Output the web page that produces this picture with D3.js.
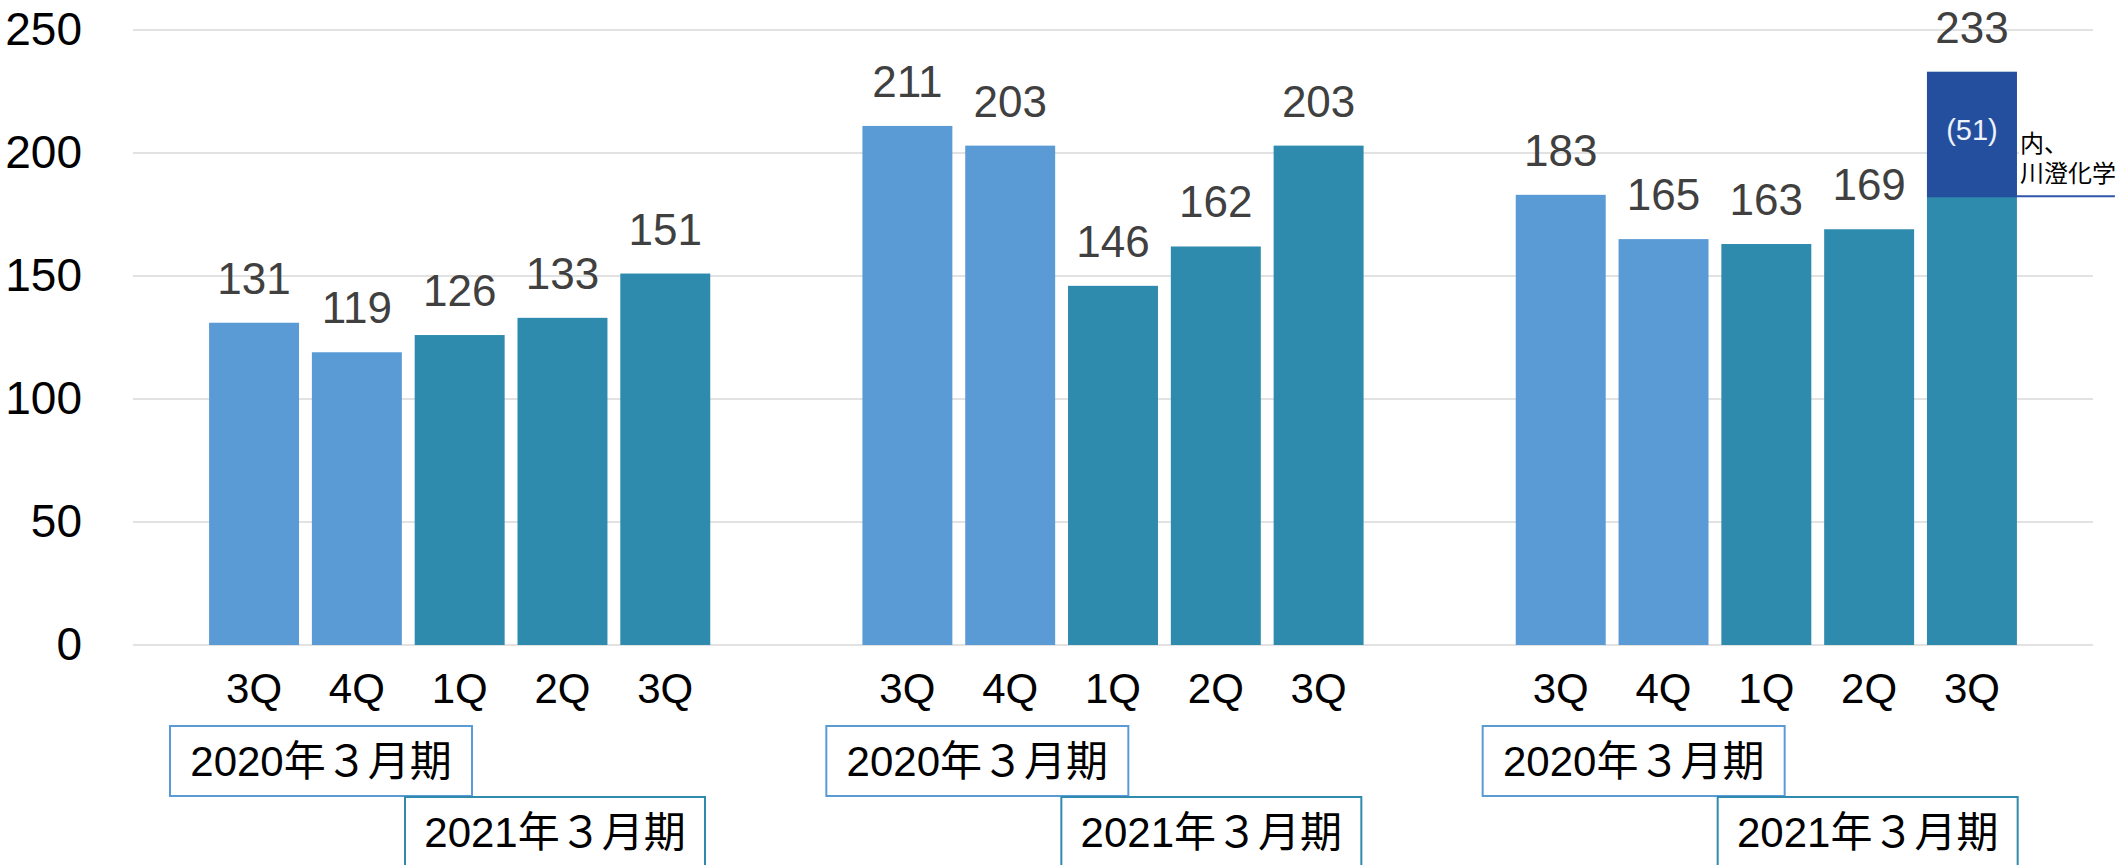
<!DOCTYPE html>
<html>
<head>
<meta charset="utf-8">
<script src="https://cdn.jsdelivr.net/npm/d3@7"></script>
<style>
    body { margin: 0; background: #fff; }
    svg { display: block; }
    text { font-family: "Liberation Sans", "Noto Sans CJK JP", sans-serif; }
</style>
</head>
<body>
<svg id="chart" width="2120" height="865"></svg>
<script>
// chart data
const panels = ["p1", "p2", "p3"];
const quarters = ["3Q", "4Q", "1Q", "2Q", "3Q"];
const quarterYear = [0, 0, 1, 1, 1];          // 0 -> FY2020, 1 -> FY2021
const fiscalYears = ["2020年３月期", "2021年３月期"];
const panelValues = [
    [131, 119, 126, 133, 151],
    [211, 203, 146, 162, 203],
    [183, 165, 163, 169, 233]
];
const yTicks = [0, 50, 100, 150, 200, 250];
const insidePart = { panel: 2, quarter: 4, value: 51 };
const insideLabel = ["内、", "川澄化学"];

const colors = ["#5B9BD5", "#2E8BAD"];
const insideColor = "#244F9F";

const svg = d3.select("#chart");
const margin = {top: 30, right: 27, bottom: 220, left: 133};
const width = 2120 - margin.left - margin.right;
const height = 865 - margin.top - margin.bottom;

const g = svg.append("g").attr("transform", `translate(${margin.left},${margin.top})`);

const y = d3.scaleLinear().domain([0, 250]).range([height, 0]);
const panelX = d3.scaleBand().domain(panels).range([0, width]).padding(0);
const qX = d3.scaleBand().domain(d3.range(quarters.length))
        .range([0, panelX.bandwidth()])
        .paddingInner(0.125)
        .paddingOuter(0.74);

// gridlines
g.append("g")
        .selectAll("line")
        .data(yTicks)
        .enter().append("line")
        .attr("x1", 0)
        .attr("x2", width)
        .attr("y1", d => y(d))
        .attr("y2", d => y(d))
        .attr("stroke", "#d9d9d9")
        .attr("stroke-width", 1.5);

// y axis
const yAxis = g.append("g")
        .call(d3.axisLeft(y).tickValues(yTicks).tickSize(0).tickPadding(51));
yAxis.select(".domain").remove();
yAxis.selectAll("text")
        .attr("font-size", 46)
        .attr("font-family", "Liberation Sans, sans-serif")
        .attr("fill", "#000");

panels.forEach((p, pi) => {
    const pg = g.append("g").attr("transform", `translate(${panelX(p)},0)`);
    const vals = panelValues[pi];

    pg.selectAll("rect.bar")
            .data(vals)
            .enter().append("rect")
            .attr("class", "bar")
            .attr("x", (d, i) => qX(i))
            .attr("width", qX.bandwidth())
            .attr("y", d => y(d))
            .attr("height", d => y(0) - y(d))
            .attr("fill", (d, i) => colors[quarterYear[i]]);

    // value labels
    pg.selectAll("text.val")
            .data(vals)
            .enter().append("text")
            .attr("class", "val")
            .attr("x", (d, i) => qX(i) + qX.bandwidth() / 2)
            .attr("y", d => y(d) - 29)
            .attr("text-anchor", "middle")
            .attr("font-size", 44)
            .attr("fill", "#404040")
            .text(d => d);

    // quarter axis
    const xAxis = pg.append("g")
            .attr("transform", `translate(0,${height})`)
            .call(d3.axisBottom(qX).tickSize(0).tickPadding(28).tickFormat(i => quarters[i]));
    xAxis.select(".domain").remove();
    xAxis.selectAll("text")
            .attr("font-size", 42)
            .attr("font-family", "Liberation Sans, sans-serif")
            .attr("fill", "#000");

    // fiscal year boxes
    const shift = (pi - 1) * 3;
    const boxes = [
        {x: 40 + shift, y: height + 81, w: 302, h: 70},
        {x: 275 + shift, y: height + 152, w: 300, h: 80}
    ];
    boxes.forEach((b, bi) => {
        pg.append("rect")
                .attr("x", b.x)
                .attr("y", b.y)
                .attr("width", b.w)
                .attr("height", b.h)
                .attr("fill", "#fff")
                .attr("stroke", colors[bi])
                .attr("stroke-width", 2);
        pg.append("text")
                .attr("x", b.x + b.w / 2)
                .attr("y", b.y + 50)
                .attr("text-anchor", "middle")
                .attr("font-size", 42)
                .attr("fill", "#000")
                .text(fiscalYears[bi]);
    });

    // stacked inside part
    if (pi === insidePart.panel) {
        const q = insidePart.quarter;
        const total = vals[q];
        const base = total - insidePart.value;
        const bx = qX(q);
        pg.append("rect")
                .attr("x", bx)
                .attr("width", qX.bandwidth())
                .attr("y", y(total))
                .attr("height", y(base) - y(total))
                .attr("fill", insideColor);
        pg.append("text")
                .attr("x", bx + qX.bandwidth() / 2)
                .attr("y", (y(total) + y(base)) / 2 + 5)
                .attr("text-anchor", "middle")
                .attr("font-size", 29)
                .attr("fill", "#eef2fa")
                .text(`(${insidePart.value})`);

        const right = bx + qX.bandwidth();
        pg.append("rect")
                .attr("x", right + 2)
                .attr("y", y(base) - 62)
                .attr("width", 120)
                .attr("height", 58)
                .attr("fill", "#fff");
        pg.append("line")
                .attr("x1", right)
                .attr("x2", right + 98)
                .attr("y1", y(base) - 1)
                .attr("y2", y(base) - 1)
                .attr("stroke", "#2F56AA")
                .attr("stroke-width", 2);
        insideLabel.forEach((t, ti) => {
            pg.append("text")
                    .attr("x", right + 3)
                    .attr("y", y(base) - 45 + ti * 30)
                    .attr("font-size", 24)
                    .attr("font-family", "Noto Sans CJK JP, sans-serif")
                    .attr("fill", "#000")
                    .text(t);
        });
    }
});
</script>
</body>
</html>
